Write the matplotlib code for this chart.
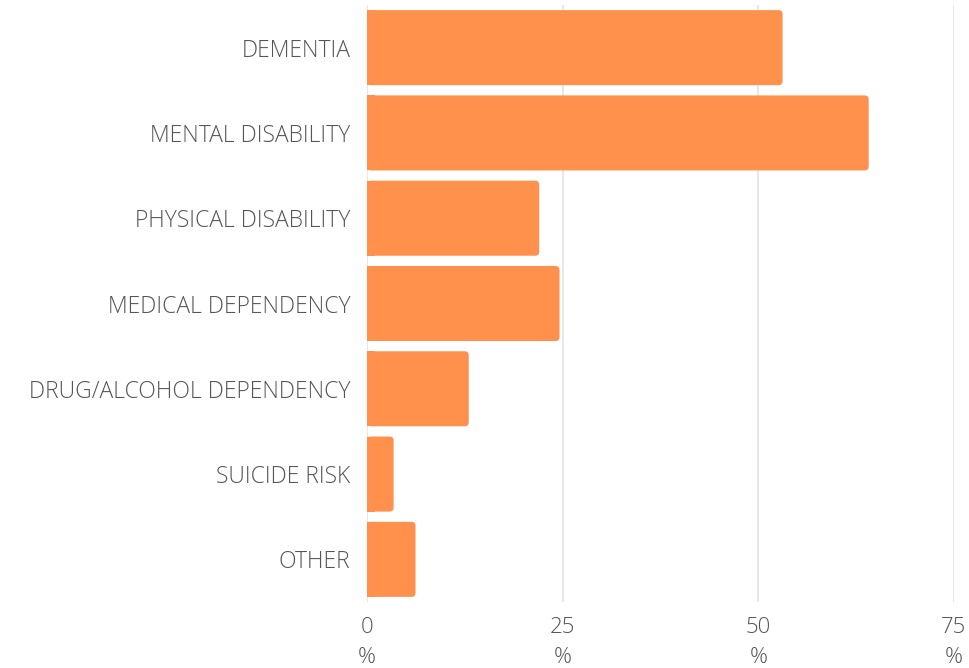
import matplotlib.pyplot as plt
from matplotlib.patches import FancyBboxPatch, Rectangle

categories = ["DEMENTIA", "MENTAL DISABILITY", "PHYSICAL DISABILITY",
              "MEDICAL DEPENDENCY", "DRUG/ALCOHOL DEPENDENCY", "SUICIDE RISK", "OTHER"]
values = [53.1, 64.1, 22.0, 24.6, 13.0, 3.4, 6.2]
x_ticks = [0, 25, 50, 75]

plt.rcParams['font.family'] = ['Open Sans', 'DejaVu Sans']

fig = plt.figure(figsize=(9.69, 6.68), dpi=100)
ax = fig.add_axes([367 / 969, 1 - 602 / 668, (954 - 367) / 969, (602 - 5) / 668])

ax.set_xlim(0, 75)
ax.set_ylim(len(categories) - 0.5, -0.5)

ypos = list(range(len(categories)))
bars = ax.barh(ypos, values, height=0.88, color="#FF914D", zorder=2)

# swap each bar for one with rounded right corners
x_per_px = 75 / 587
y_per_px = 7 / 597
r = 4 * x_per_px
for b in bars:
    x0, y0, w, h = b.get_x(), b.get_y(), b.get_width(), b.get_height()
    b.set_visible(False)
    ax.add_patch(FancyBboxPatch((x0, y0), w, h,
                                boxstyle=f"round,pad=0,rounding_size={r}",
                                mutation_aspect=y_per_px / x_per_px,
                                fc="#FF914D", ec="none", zorder=2))
    ax.add_patch(Rectangle((x0, y0), min(w, 2 * r), h, fc="#FF914D", ec="none", zorder=2))

ax.set_yticks(ypos)
ax.set_yticklabels(categories, fontsize=16.5, color="#555555", fontweight="light")
ax.set_xticks(x_ticks)
ax.set_xticklabels([f"{t}\n%" for t in x_ticks], fontsize=16, color="#555555",
                   fontweight="light", linespacing=1.55)
ax.tick_params(axis="y", length=0, pad=12)
ax.tick_params(axis="x", length=0, pad=11)

ax.grid(axis="x", color="#E3E3E3", linewidth=1.2, zorder=0)
for s in ax.spines.values():
    s.set_visible(False)

fig.savefig("out.png", dpi=100)
